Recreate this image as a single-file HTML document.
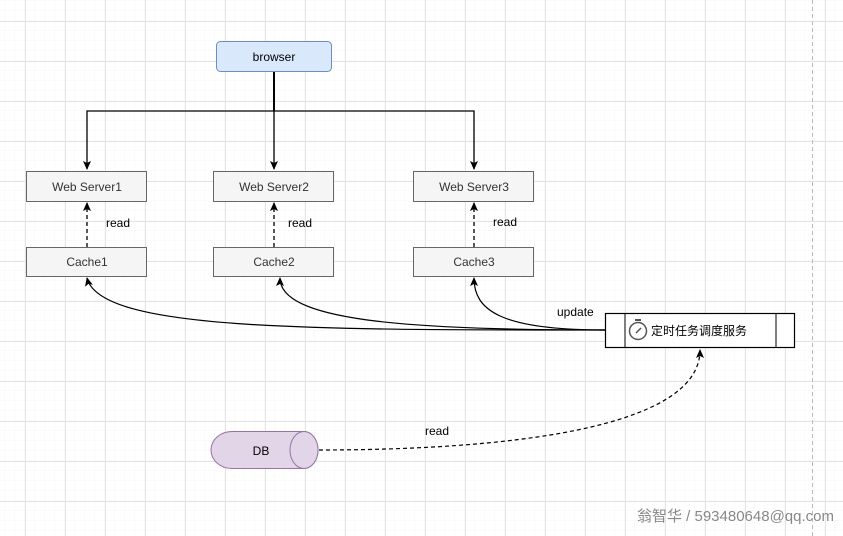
<!DOCTYPE html>
<html><head><meta charset="utf-8"><style>
html,body{margin:0;padding:0;background:#fff;}
svg{display:block;font-family:"Liberation Sans","Noto Sans CJK SC",sans-serif;}
</style></head><body>
<svg width="843" height="536" viewBox="0 0 843 536" xmlns="http://www.w3.org/2000/svg">
<defs>
<pattern id="minor" width="10" height="10" patternUnits="userSpaceOnUse" x="5" y="1">
<path d="M10 0V10M0 10H10" fill="none" stroke="#f6f6f6" stroke-width="1"/>
</pattern>
<pattern id="major" width="40" height="40" patternUnits="userSpaceOnUse" x="25" y="21">
<path d="M0.5 0V40M0 0.5H40" fill="none" stroke="#e4e4e4" stroke-width="1"/>
</pattern>
<marker id="ar" markerWidth="10" markerHeight="10" refX="8" refY="5" orient="auto" markerUnits="userSpaceOnUse">
<path d="M0,1 L9,5 L0,9 L2,5 Z" fill="#000"/>
</marker>
</defs>
<rect width="843" height="536" fill="url(#minor)"/>
<rect width="843" height="536" fill="url(#major)"/>
<line x1="812.5" y1="0" x2="812.5" y2="536" stroke="#bbb" stroke-dasharray="4,3"/>

<!-- browser -->
<rect x="216.5" y="41.5" width="115" height="30" rx="4" fill="#dae8fc" stroke="#6c8ebf"/>
<text x="274" y="61" font-size="12" text-anchor="middle">browser</text>
<path d="M274 72V111" fill="none" stroke="#000" stroke-width="2"/>
<path d="M274 111H87V169" fill="none" stroke="#000" stroke-width="1.3" marker-end="url(#ar)"/>
<path d="M274 111V169" fill="none" stroke="#000" stroke-width="1.3" marker-end="url(#ar)"/>
<path d="M274 111H474V169" fill="none" stroke="#000" stroke-width="1.3" marker-end="url(#ar)"/>

<g font-size="12" text-anchor="middle" fill="#333">
<rect x="26.5" y="171.5" width="120" height="30" fill="#f5f5f5" stroke="#666"/>
<text x="87" y="191">Web Server1</text>
<rect x="213.5" y="171.5" width="120" height="30" fill="#f5f5f5" stroke="#666"/>
<text x="274" y="191">Web Server2</text>
<rect x="413.5" y="171.5" width="120" height="30" fill="#f5f5f5" stroke="#666"/>
<text x="474" y="191">Web Server3</text>
<rect x="26.5" y="247.5" width="120" height="29" fill="#f5f5f5" stroke="#666"/>
<text x="87" y="266">Cache1</text>
<rect x="213.5" y="247.5" width="120" height="29" fill="#f5f5f5" stroke="#666"/>
<text x="274" y="266">Cache2</text>
<rect x="413.5" y="247.5" width="120" height="29" fill="#f5f5f5" stroke="#666"/>
<text x="474" y="266">Cache3</text>
</g>
<g stroke="#000" stroke-width="1.3" stroke-dasharray="4,3" fill="none">
<path d="M87 247V203" marker-end="url(#ar)"/>
<path d="M274 247V203" marker-end="url(#ar)"/>
<path d="M474 247V203" marker-end="url(#ar)"/>
</g>
<g font-size="12">
<text x="106" y="227">read</text>
<text x="288" y="227">read</text>
<text x="493" y="226">read</text>
<text x="557" y="316">update</text>
<text x="425" y="435">read</text>
</g>

<!-- curves -->
<g stroke="#000" stroke-width="1.2" fill="none">
<path d="M605 330C300 330 100 330 87 278" marker-end="url(#ar)"/>
<path d="M605 330C400 330 280 320 280 278" marker-end="url(#ar)"/>
<path d="M605 330C500 330 474 310 474 278" marker-end="url(#ar)"/>
</g>

<!-- timer -->
<rect x="605.5" y="313.5" width="189" height="34" fill="#fff" stroke="#000" stroke-width="1.2"/>
<line x1="625" y1="313" x2="625" y2="348" stroke="#000"/>
<line x1="776" y1="313" x2="776" y2="348" stroke="#000"/>
<circle cx="638" cy="331" r="8.5" fill="none" stroke="#555" stroke-width="1.5"/>
<rect x="635" y="319" width="6" height="2" fill="#555"/>
<line x1="636" y1="333" x2="641" y2="328" stroke="#555" stroke-width="1.5"/>
<text x="651" y="335" font-size="12">定时任务调度服务</text>

<!-- DB -->
<path d="M232 431.5H304A14 18.5 0 0 1 304 468.5H232A21 18.5 0 0 1 232 431.5Z" fill="#e1d5e7" stroke="#9673a6"/>
<ellipse cx="304" cy="450" rx="14" ry="18.5" fill="#e1d5e7" stroke="#9673a6"/>
<text x="261" y="455" font-size="12" text-anchor="middle">DB</text>
<path d="M319 450C500 450 700 430 700 350" fill="none" stroke="#000" stroke-width="1.2" stroke-dasharray="4,3" marker-end="url(#ar)"/>

<text x="834" y="521" font-size="15" text-anchor="end" fill="#888">翁智华 / 593480648@qq.com</text>
</svg>
</body></html>
